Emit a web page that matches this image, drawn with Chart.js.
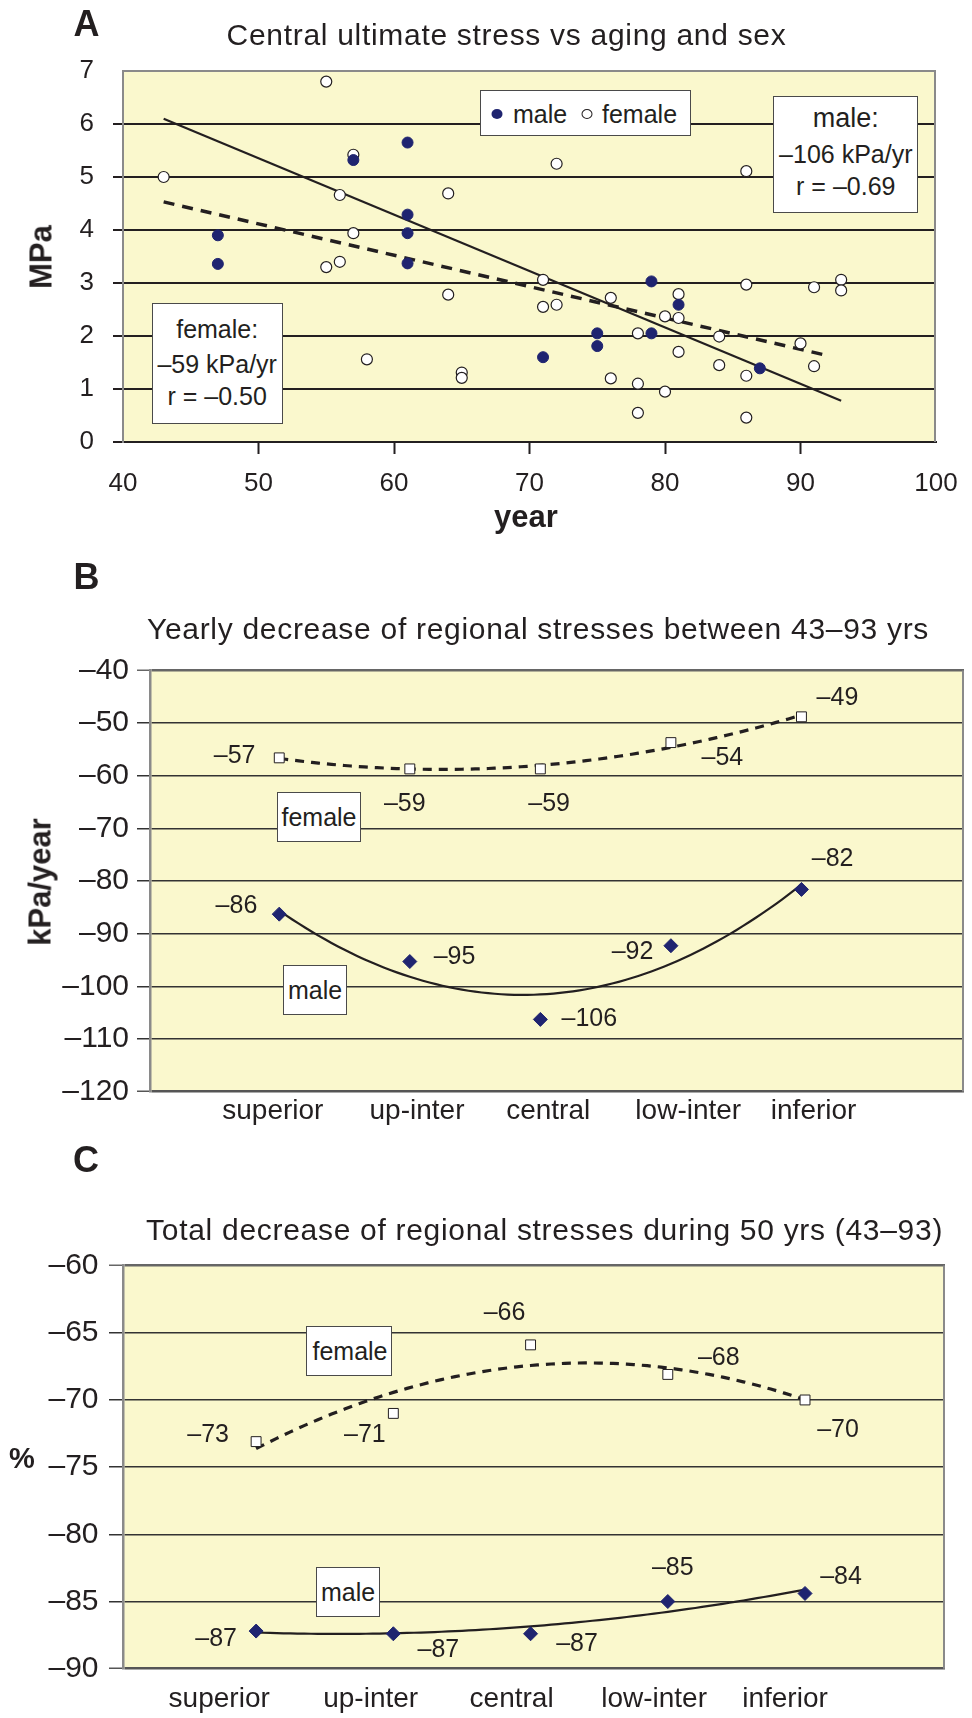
<!DOCTYPE html>
<html><head><meta charset="utf-8">
<script src="https://cdn.jsdelivr.net/npm/chart.js@4.4.1/dist/chart.umd.min.js"></script>
<style>
html,body{margin:0;padding:0;background:#fff;}
body{width:972px;height:1718px;position:relative;overflow:hidden;font-family:"Liberation Sans",Arial,Helvetica,sans-serif;color:#231f20;}
canvas{position:absolute;left:0;}
.t{position:absolute;transform:translate(-50%,-50%);line-height:1;white-space:nowrap;}
.l{position:absolute;transform:translate(0,-50%);line-height:1;white-space:nowrap;}
.title{font-size:30px;letter-spacing:0.7px;}
.pl{font-size:36px;font-weight:bold;}
.ax{font-size:31px;font-weight:bold;}
.box{position:absolute;background:#fff;border:1.5px solid #4a4a4a;box-sizing:border-box;}
.ann{font-size:25px;}
.mk{position:absolute;transform:translate(-50%,-50%);border-radius:50%;box-sizing:border-box;}
</style></head><body>
<canvas id="cA" width="972" height="540" style="top:0px"></canvas>
<canvas id="cB" width="972" height="600" style="top:540px"></canvas>
<canvas id="cC" width="972" height="578" style="top:1140px"></canvas>

<!-- Panel A texts -->
<div class="t pl" style="left:86.5px;top:23.5px">A</div>
<div class="t title" style="left:506.5px;top:35px">Central ultimate stress vs aging and sex</div>
<div class="t ax" style="left:41px;top:257px;transform:translate(-50%,-50%) rotate(-90deg)">MPa</div>
<div class="t ax" style="left:526px;top:516px">year</div>
<div class="box" style="left:480px;top:90.4px;width:210.7px;height:46px"></div>
<div class="mk" style="left:497px;top:114px;width:11px;height:10px;background:#1f2470"></div>
<div class="l ann" style="left:513px;top:114px">male</div>
<div class="mk" style="left:587.3px;top:114px;width:11px;height:10px;background:#fff;border:1.2px solid #231f20"></div>
<div class="l ann" style="left:602px;top:114px">female</div>
<div class="box" style="left:773.3px;top:95.7px;width:145px;height:117.2px"></div>
<div class="t" style="left:845.8px;top:117.9px;font-size:27px">male:</div>
<div class="t ann" style="left:845.8px;top:153.6px">–106 kPa/yr</div>
<div class="t ann" style="left:845.8px;top:185.7px">r = –0.69</div>
<div class="box" style="left:151.7px;top:303.2px;width:131px;height:120.8px"></div>
<div class="t ann" style="left:217.2px;top:328.6px">female:</div>
<div class="t ann" style="left:217.2px;top:364.3px">–59 kPa/yr</div>
<div class="t ann" style="left:217.2px;top:396.4px">r = –0.50</div>

<!-- Panel B texts -->
<div class="t pl" style="left:86.5px;top:577px">B</div>
<div class="t title" style="left:538px;top:629px">Yearly decrease of regional stresses between 43–93 yrs</div>
<div class="t ax" style="left:40px;top:882px;transform:translate(-50%,-50%) rotate(-90deg)">kPa/year</div>
<div class="box" style="left:277px;top:791.6px;width:84.4px;height:50.7px"></div>
<div class="t ann" style="left:319px;top:816.7px">female</div>
<div class="box" style="left:282.7px;top:964.7px;width:64px;height:50.7px"></div>
<div class="t ann" style="left:315px;top:990px">male</div>

<!-- Panel C texts -->
<div class="t pl" style="left:86px;top:1160px">C</div>
<div class="t title" style="left:544.6px;top:1230px">Total decrease of regional stresses during 50 yrs (43–93)</div>
<div class="t" style="left:22px;top:1458px;font-size:29px;font-weight:bold">%</div>
<div class="box" style="left:306px;top:1326.4px;width:86.4px;height:50px"></div>
<div class="t ann" style="left:350px;top:1351px">female</div>
<div class="box" style="left:315.6px;top:1567px;width:64.4px;height:49.5px"></div>
<div class="t ann" style="left:348px;top:1592px">male</div>

<script>
// ---------------- DATA ----------------
// Panel A: central ultimate stress (MPa) vs age (years)
const maleAge = [47, 47, 57, 61, 61, 61, 61, 79, 81, 75, 75, 79, 71, 87];
const maleStress = [3.90, 3.36, 5.32, 5.65, 4.29, 3.94, 3.37, 3.03, 2.59, 2.05, 1.81, 2.05, 1.60, 1.39];
const femaleAge = [43, 55, 57, 56, 57, 55, 56, 64, 64, 58, 65, 65,
  72, 86, 71, 71, 72, 76, 81, 80, 81, 78, 84, 90, 81, 84, 86, 91, 76, 78, 80, 78, 86, 86, 91, 93, 93];
const femaleStress = [5.00, 6.80, 5.42, 4.66, 3.94, 3.30, 3.40, 4.69, 2.78, 1.56, 1.31, 1.21,
  5.25, 5.11, 3.06, 2.55, 2.59, 2.72, 2.79, 2.37, 2.34, 2.05, 1.99, 1.86, 1.70, 1.45, 1.25, 1.43, 1.20, 1.10, 0.95, 0.55, 0.46, 2.97, 2.92, 3.06, 2.86];
// regression lines as drawn (end points)
const maleTrendAge = [43, 93];
const maleTrendStress = [6.10, 0.78];
const femaleTrendAge = [43, 92];
const femaleTrendStress = [4.53, 1.63];
const ageTicks = [40, 50, 60, 70, 80, 90, 100];

// Panels B and C: regions
const regions = ['superior', 'up-inter', 'central', 'low-inter', 'inferior'];
// Panel B: yearly decrease (kPa/year)
const yearlyFemale = [-56.6, -58.7, -58.7, -53.7, -48.8];
const yearlyMale = [-86.3, -95.3, -106.3, -92.3, -81.6];
// Panel C: total decrease over 50 years (%)
const totalFemale = [-73.1, -71.0, -65.9, -68.1, -70.0];
const totalMale = [-87.2, -87.4, -87.4, -85.0, -84.4];

// ---------------- STYLE ----------------
const FONT = '"Liberation Sans", Arial, Helvetica, sans-serif';
const INK = '#231f20';
const NAVY = '#1f2470';
const PLOT_BG = '#faf8cd';
Chart.defaults.font.family = FONT;
Chart.defaults.color = INK;

const labelOffB = {
  female: [[-44.6, -1.8], [-5, 35], [8.8, 35], [51.5, 15.6], [36, -18.5]],
  male: [[-42.8, -8], [44.7, -4.8], [49, 0], [-38.4, 6.7], [31.2, -30.7]]
};
const labelOffC = {
  female: [[-48, -6.5], [-28.5, 22], [-26, -31.7], [51, -16], [33, 30]],
  male: [[-40, 8.4], [45, 16.6], [46.5, 10], [5, -33], [36, -16]]
};
// horizontal shift of the category labels relative to the marks (axis units)
const catShiftB = [-0.049, 0.055, 0.060, 0.133, 0.093];
const catShiftC = [-0.269, -0.165, -0.138, -0.100, -0.146];

const dashNum = v => (v < 0 ? '\u2013' + Math.abs(v) : String(v));

// quadratic least-squares trendline (like a spreadsheet polynomial trendline)
function quadFit(xs, ys) {
  const S = [0, 0, 0, 0, 0], T = [0, 0, 0];
  xs.forEach((x, i) => {
    let p = 1;
    for (let k = 0; k < 5; k++) { S[k] += p; if (k < 3) T[k] += p * ys[i]; p *= x; }
  });
  const M = [[S[0], S[1], S[2], T[0]], [S[1], S[2], S[3], T[1]], [S[2], S[3], S[4], T[2]]];
  for (let c = 0; c < 3; c++) {
    for (let r = c + 1; r < 3; r++) {
      const f = M[r][c] / M[c][c];
      for (let k = c; k < 4; k++) M[r][k] -= f * M[c][k];
    }
  }
  const s = [0, 0, 0];
  for (let r = 2; r >= 0; r--) {
    let v = M[r][3];
    for (let k = r + 1; k < 3; k++) v -= M[r][k] * s[k];
    s[r] = v / M[r][r];
  }
  return s;
}
function trendPoints(vals) {
  const xs = vals.map((_, i) => i + 1);
  const [a, b, c] = quadFit(xs, vals);
  const pts = [];
  for (let k = 0; k <= 80; k++) {
    const x = 1 + k * 4 / 80;
    pts.push({ x, y: a + b * x + c * x * x });
  }
  return pts;
}

// ---------------- PLUGINS ----------------
const framePlugin = {
  id: 'frame',
  beforeDraw(chart, args, opts) {
    const a = chart.chartArea, ctx = chart.ctx;
    ctx.save();
    ctx.fillStyle = opts.bg;
    ctx.fillRect(a.left, a.top, a.right - a.left, a.bottom - a.top);
    ctx.restore();
  },
  beforeDatasetsDraw(chart, args, opts) {
    const a = chart.chartArea, ctx = chart.ctx;
    ctx.save();
    ctx.strokeStyle = opts.color;
    ctx.lineWidth = opts.width;
    ctx.beginPath();
    ctx.moveTo(a.right - opts.width / 2, a.top);
    ctx.lineTo(a.right - opts.width / 2, a.bottom);
    ctx.stroke();
    ctx.restore();
  }
};
const valueLabels = {
  id: 'valueLabels',
  afterDatasetsDraw(chart) {
    const ctx = chart.ctx;
    chart.data.datasets.forEach((ds, i) => {
      if (!ds.labelOffsets) return;
      const meta = chart.getDatasetMeta(i);
      ctx.save();
      ctx.font = '25px ' + FONT;
      ctx.fillStyle = INK;
      ctx.textAlign = 'center';
      ctx.textBaseline = 'middle';
      meta.data.forEach((pt, j) => {
        const off = ds.labelOffsets[j];
        ctx.fillText(dashNum(Math.round(ds.data[j].y)), pt.x + off[0], pt.y + off[1]);
      });
      ctx.restore();
    });
  }
};

// ---------------- PANEL A ----------------
const toXY = (xs, ys) => xs.map((x, i) => ({ x, y: ys[i] }));
new Chart(document.getElementById('cA'), {
  type: 'scatter',
  data: {
    datasets: [
      { label: 'male', data: toXY(maleAge, maleStress), pointRadius: 5.5, pointStyle: 'circle',
        backgroundColor: NAVY, borderColor: NAVY, borderWidth: 1, order: 0 },
      { label: 'female', data: toXY(femaleAge, femaleStress), pointRadius: 5.5, pointStyle: 'circle',
        backgroundColor: '#ffffff', borderColor: INK, borderWidth: 1.2, order: 0 },
      { label: 'male fit', data: toXY(maleTrendAge, maleTrendStress), showLine: true, pointRadius: 0,
        borderColor: INK, borderWidth: 2.2, fill: false, order: 1 },
      { label: 'female fit', data: toXY(femaleTrendAge, femaleTrendStress), showLine: true, pointRadius: 0,
        borderColor: INK, borderWidth: 3.5, borderDash: [11, 8], fill: false, order: 1 }
    ]
  },
  options: {
    responsive: false, animation: false, maintainAspectRatio: false,
    layout: { padding: { top: 71, right: 36, left: 0, bottom: 0 } },
    plugins: { legend: { display: false }, tooltip: { enabled: false }, frame: { bg: PLOT_BG, color: '#8a8a8a', width: 2 } },
    scales: {
      x: {
        type: 'linear', min: 40, max: 100,
        afterBuildTicks: s => { s.ticks = ageTicks.map(v => ({ value: v })); },
        ticks: { font: { size: 26 }, color: INK, padding: 14, maxRotation: 0, autoSkip: false },
        grid: { drawOnChartArea: false, tickLength: 12, tickWidth: 2,
          tickColor: c => (c.tick && (c.tick.value === 40 || c.tick.value === 100)) ? 'rgba(0,0,0,0)' : INK },
        border: { color: INK, width: 2 },
        afterFit: s => { s.height = 98; s.paddingLeft = 0; s.paddingRight = 0; }
      },
      y: {
        min: 0, max: 7,
        ticks: { stepSize: 1, font: { size: 26 }, color: INK, padding: 19 },
        grid: { lineWidth: 2, tickLength: 10, tickWidth: 2,
          color: c => (c.tick && c.tick.value === 7) ? '#8a8a8a' : INK,
          tickColor: c => (c.tick && c.tick.value === 7) ? 'rgba(0,0,0,0)' : INK },
        border: { color: '#8a8a8a', width: 2 },
        afterFit: s => { s.width = 123; }
      }
    }
  },
  plugins: [framePlugin]
});

// ---------------- PANELS B & C ----------------
function regionChart(id, female, male, offs, cfg) {
  const pos = female.map((_, i) => i + 1);
  return new Chart(document.getElementById(id), {
    type: 'scatter',
    data: {
      datasets: [
        { label: 'female', data: toXY(pos, female), pointStyle: 'rect', pointRadius: 7,
          backgroundColor: '#ffffff', borderColor: INK, borderWidth: 1, labelOffsets: offs.female, order: 0 },
        { label: 'male', data: toXY(pos, male), pointStyle: 'rectRot', pointRadius: 7,
          backgroundColor: NAVY, borderColor: NAVY, borderWidth: 1, labelOffsets: offs.male, order: 0 },
        { label: 'female fit', data: trendPoints(female), showLine: true, pointRadius: 0,
          borderColor: INK, borderWidth: 3.2, borderDash: [9, 7], fill: false, order: 1 },
        { label: 'male fit', data: trendPoints(male), showLine: true, pointRadius: 0,
          borderColor: INK, borderWidth: 2.2, fill: false, order: 1 }
      ]
    },
    options: {
      responsive: false, animation: false, maintainAspectRatio: false,
      layout: { padding: { top: cfg.top, right: cfg.right, left: 0, bottom: 0 } },
      plugins: { legend: { display: false }, tooltip: { enabled: false }, frame: { bg: PLOT_BG, color: '#8a8a8a', width: 2 } },
      scales: {
        x: {
          type: 'linear', min: cfg.xmin, max: cfg.xmax,
          afterBuildTicks: s => { s.ticks = pos.map((v, i) => ({ value: v + cfg.shift[i] })); },
          ticks: { font: { size: 28 }, color: INK, padding: cfg.xpad,
            maxRotation: 0, autoSkip: false, callback: (v, i) => regions[i] },
          grid: { display: false, drawTicks: false },
          border: { display: false },
          afterFit: s => { s.height = cfg.xh; s.paddingLeft = 0; s.paddingRight = 0; }
        },
        y: {
          min: cfg.ymin, max: cfg.ymax,
          ticks: { stepSize: cfg.step, font: { size: 30 }, color: INK, padding: cfg.ypad, callback: v => dashNum(v) },
          grid: {
            tickLength: cfg.tl,
            color: c => (c.tick && c.tick.value === cfg.ymin) ? '#555' : (c.tick && c.tick.value === cfg.ymax ? '#666' : '#333'),
            tickColor: c => (c.tick && c.tick.value === cfg.ymin) ? '#555' : (c.tick && c.tick.value === cfg.ymax ? '#666' : '#333'),
            lineWidth: c => (c.tick && (c.tick.value === cfg.ymin || c.tick.value === cfg.ymax)) ? 2.5 : 1.5,
            tickWidth: 1.5
          },
          border: { color: '#8a8a8a', width: 2.5 },
          afterFit: s => { s.width = cfg.yw; }
        }
      }
    },
    plugins: [framePlugin, valueLabels]
  });
}

regionChart('cB', yearlyFemale, yearlyMale, labelOffB, {
  top: 130.5, right: 1, xmin: 0.01, xmax: 6.245, xpad: 3, shift: catShiftB, xh: 48.5,
  ymin: -120, ymax: -40, step: 10, ypad: 8, tl: 13, yw: 150
});
regionChart('cC', totalFemale, totalMale, labelOffC, {
  top: 125.6, right: 27, xmin: 0.03, xmax: 6.02, xpad: 13.5, shift: catShiftC, xh: 49.3,
  ymin: -90, ymax: -60, step: 5, ypad: 10.5, tl: 14, yw: 123
});
</script>
</body></html>
